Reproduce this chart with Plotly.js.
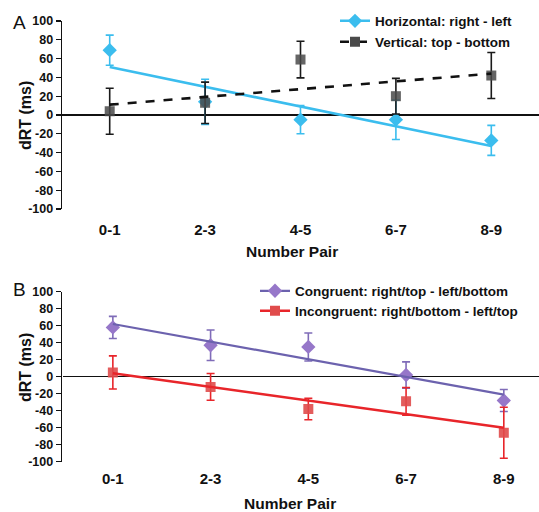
<!DOCTYPE html>
<html>
<head>
<meta charset="utf-8">
<script src="https://cdn.plot.ly/plotly-3.0.1.min.js"></script>
<style>html,body{margin:0;padding:0;background:#fff;}#chart{width:539px;height:512px;}</style>
</head>
<body>
<div id="chart"></div>
<script>
// Categories
const pairs = ['0-1', '2-3', '4-5', '6-7', '8-9'];
const trendX = ['0-1', '8-9'];

// Panel A
const horizVals = [69, 14, -5, -5, -27];
const horizErr  = [16, 24, 15, 21, 16];
const horizTrend = [51, -33];
const vertVals = [4, 13, 59, 20, 42];
const vertErr  = [24.5, 22, 19.5, 19, 24.5];
const vertTrend = [11, 44];

// Panel B
const congVals = [58, 37, 35, 2, -28];
const congErr  = [13, 18, 16.5, 15.5, 13];
const congTrend = [62, -21];
const incongVals = [5, -12, -38, -29, -66];
const incongErr  = [19.5, 15.7, 12.7, 16.3, 30];
const incongTrend = [4, -60];

const yTicks = [100, 80, 60, 40, 20, 0, -20, -40, -60, -80, -100];

const FONT = 'Liberation Sans, Arial, sans-serif';
const cyan = '#3bbdee';
const gray = '#4a4a4a';
const purpleM = '#9677c9';
const purpleL = '#6c62ae';
const redM = '#e04b4b';
const redL = '#e8252a';

function errs(arr, color) {
  return {type: 'data', array: arr, visible: true, color: color, thickness: 1.6, width: 4};
}

const traces = [
  // Panel A
  {x: pairs, y: horizVals, type: 'scatter', mode: 'markers', xaxis: 'x', yaxis: 'y',
   marker: {symbol: 'diamond', size: 11, color: cyan}, error_y: errs(horizErr, cyan), showlegend: false},
  {x: trendX, y: horizTrend, type: 'scatter', mode: 'lines', xaxis: 'x', yaxis: 'y',
   line: {color: cyan, width: 2.6}, showlegend: false},
  {x: pairs, y: vertVals, type: 'scatter', mode: 'markers', xaxis: 'x', yaxis: 'y',
   marker: {symbol: 'square', size: 10, color: gray, opacity: 0.85}, error_y: errs(vertErr, '#1a1a1a'), showlegend: false},
  {x: trendX, y: vertTrend, type: 'scatter', mode: 'lines', xaxis: 'x', yaxis: 'y',
   line: {color: '#111', width: 2.6, dash: 'dash'}, showlegend: false},
  // Panel A legend entries
  {x: [null], y: [null], type: 'scatter', mode: 'lines+markers', xaxis: 'x', yaxis: 'y',
   name: 'Horizontal: right - left', legend: 'legend',
   line: {color: cyan, width: 2.6}, marker: {symbol: 'diamond', size: 11, color: cyan}},
  {x: [null], y: [null], type: 'scatter', mode: 'lines+markers', xaxis: 'x', yaxis: 'y',
   name: 'Vertical: top - bottom', legend: 'legend3',
   line: {color: '#111', width: 2.6, dash: 'dash'}, marker: {symbol: 'square', size: 10, color: gray}},
  // Panel B
  {x: pairs, y: congVals, type: 'scatter', mode: 'markers', xaxis: 'x2', yaxis: 'y2',
   marker: {symbol: 'diamond', size: 11, color: purpleM}, error_y: errs(congErr, '#7f6cb8'), showlegend: false},
  {x: trendX, y: congTrend, type: 'scatter', mode: 'lines', xaxis: 'x2', yaxis: 'y2',
   line: {color: purpleL, width: 2.2}, showlegend: false},
  {x: pairs, y: incongVals, type: 'scatter', mode: 'markers', xaxis: 'x2', yaxis: 'y2',
   marker: {symbol: 'square', size: 10, color: redM, opacity: 0.9}, error_y: errs(incongErr, redL), showlegend: false},
  {x: trendX, y: incongTrend, type: 'scatter', mode: 'lines', xaxis: 'x2', yaxis: 'y2',
   line: {color: redL, width: 2.6}, showlegend: false},
  {x: [null], y: [null], type: 'scatter', mode: 'lines+markers', xaxis: 'x2', yaxis: 'y2',
   name: 'Congruent: right/top - left/bottom', legend: 'legend2',
   line: {color: purpleL, width: 2.2}, marker: {symbol: 'diamond', size: 11, color: purpleM}},
  {x: [null], y: [null], type: 'scatter', mode: 'lines+markers', xaxis: 'x2', yaxis: 'y2',
   name: 'Incongruent: right/bottom - left/top', legend: 'legend4',
   line: {color: redL, width: 2.6}, marker: {symbol: 'square', size: 10, color: redM}}
];

const W = 539, H = 512;
const px = v => v / W;
const py = v => 1 - v / H;

function yax(domain) {
  return {
    domain: domain, range: [-100, 100], tickvals: yTicks, ticktext: yTicks.map(String),
    showline: true, linecolor: '#111', linewidth: 1.3, ticks: 'outside', ticklen: 5, tickwidth: 1.3, tickcolor: '#111',
    showgrid: false, zeroline: true, zerolinecolor: '#111', zerolinewidth: 1.3,
    tickfont: {family: FONT, size: 12.5, color: '#111', weight: 'bold'}, fixedrange: true
  };
}
function xax(domain, range, anchor, standoff) {
  return {
    domain: domain, range: range, type: 'category', anchor: anchor,
    showline: false, ticks: '', showgrid: false, zeroline: false, ticklabelstandoff: standoff,
    tickfont: {family: FONT, size: 15, color: '#111', weight: 'bold'}, fixedrange: true
  };
}
function leg(xp, yc) {
  return {x: px(xp), y: py(yc), xanchor: 'left', yanchor: 'middle', bgcolor: 'rgba(0,0,0,0)',
          font: {family: FONT, size: 13.5, color: '#111', weight: 'bold'}, itemwidth: 30};
}

const layout = {
  width: W, height: H,
  margin: {l: 0, r: 0, t: 0, b: 0},
  paper_bgcolor: '#fff', plot_bgcolor: 'rgba(0,0,0,0)',
  font: {family: FONT, color: '#111'},
  xaxis: xax([px(62), 1], [-0.5, 4.5], 'y', 10),
  yaxis: yax([py(209), py(21)]),
  xaxis2: xax([px(63), 1], [-0.51, 4.36], 'y2', 6),
  yaxis2: yax([py(461.7), py(291.7)]),
  legend: leg(335, 21),
  legend3: leg(335, 42),
  legend2: leg(255, 291),
  legend4: leg(255, 311),
  annotations: [
    {text: 'A', x: px(11), y: py(22), xref: 'paper', yref: 'paper', xanchor: 'left', yanchor: 'middle', showarrow: false,
     font: {family: FONT, size: 19, color: '#111'}},
    {text: 'B', x: px(11), y: py(289), xref: 'paper', yref: 'paper', xanchor: 'left', yanchor: 'middle', showarrow: false,
     font: {family: FONT, size: 19, color: '#111'}},
    {text: 'dRT (ms)', x: px(25), y: py(115), xref: 'paper', yref: 'paper', textangle: -90, showarrow: false,
     xanchor: 'center', yanchor: 'middle', font: {family: FONT, size: 16, color: '#111', weight: 'bold'}},
    {text: 'dRT (ms)', x: px(25), y: py(367), xref: 'paper', yref: 'paper', textangle: -90, showarrow: false,
     xanchor: 'center', yanchor: 'middle', font: {family: FONT, size: 16, color: '#111', weight: 'bold'}},
    {text: 'Number Pair', x: px(292), y: py(251), xref: 'paper', yref: 'paper', showarrow: false,
     xanchor: 'center', yanchor: 'middle', font: {family: FONT, size: 15.5, color: '#111', weight: 'bold'}},
    {text: 'Number Pair', x: px(290), y: py(503), xref: 'paper', yref: 'paper', showarrow: false,
     xanchor: 'center', yanchor: 'middle', font: {family: FONT, size: 15.5, color: '#111', weight: 'bold'}}
  ]
};

Plotly.newPlot('chart', traces, layout, {staticPlot: true, displayModeBar: false});
</script>
</body>
</html>
